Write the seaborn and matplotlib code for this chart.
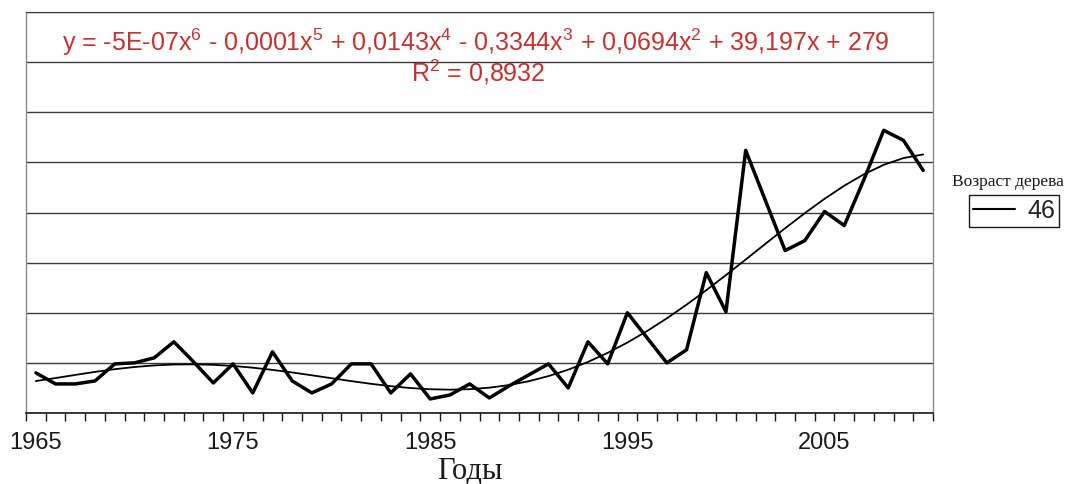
import numpy as np
import pandas as pd
import matplotlib
matplotlib.use("Agg")
import matplotlib.pyplot as plt
import seaborn as sns
from matplotlib.ticker import FixedLocator, NullFormatter

# Tree-ring series for a 46-year-old tree, 1965-2010
years = list(range(1965, 2011))
ring_values = [400, 290, 290, 320, 490, 500, 550, 710, 510, 300,
               490, 200, 610, 320, 200, 290, 490, 490, 200, 390,
               140, 180, 290, 150, 270, 380, 490, 250, 710, 490,
               1000, 750, 500, 630, 1400, 1010, 2620, 2120, 1620, 1720,
               2010, 1870, 2330, 2820, 2720, 2420]
label_years = [1965, 1975, 1985, 1995, 2005]
series_name = "46"
legend_title = "Возраст дерева"
x_title = "Годы"
equation_text = (r"y = -5E-07x$^{6}$ - 0,0001x$^{5}$ + 0,0143x$^{4}$ - 0,3344x$^{3}$"
                 r" + 0,0694x$^{2}$ + 39,197x + 279")
r2_text = r"R$^{2}$ = 0,8932"

df = pd.DataFrame({"year": years, "value": ring_values})

# Sixth-degree polynomial trend over the series index 1..n
idx = np.arange(1, len(years) + 1)
coef = np.polyfit(idx, df["value"].to_numpy(), 6)
df["trend"] = np.polyval(coef, idx)

sns.set_style("white")
plt.rcParams["font.family"] = ["Liberation Sans", "DejaVu Sans"]
plt.rcParams["mathtext.default"] = "regular"

W, H = 1068, 484
fig = plt.figure(figsize=(W / 100, H / 100), dpi=100)
left, right, top, bottom = 26, 933, 12, 413
ax = fig.add_axes([left / W, 1 - bottom / H, (right - left) / W, (bottom - top) / H])

sns.lineplot(data=df, x="year", y="value", ax=ax, color="black", linewidth=2.5,
             label=series_name, legend=False)
sns.lineplot(data=df, x="year", y="trend", ax=ax, color="black", linewidth=1.3,
             legend=False)

ax.set_xlim(years[0] - 0.5, years[-1] + 0.5)
ax.set_ylim(0, 4000)

# horizontal gridlines every 500 units, no value labels
ax.set_yticks(np.arange(0, 4001, 500))
ax.yaxis.grid(True, color="#3a3a3a", linewidth=1.0)
ax.tick_params(axis="y", left=False, labelleft=False)
ax.set_axisbelow(True)

# category-style x axis: tick marks between years, labels centred on years
ax.set_xticks(label_years)
ax.set_xticklabels([str(y) for y in label_years])
ax.xaxis.set_minor_locator(FixedLocator(np.arange(years[0] - 0.5, years[-1] + 1.0, 1.0)))
ax.xaxis.set_minor_formatter(NullFormatter())
ax.tick_params(axis="x", which="major", length=0, pad=14, labelsize=17, labelcolor="#1a1a1a")
ax.tick_params(axis="x", which="minor", length=6, width=1.0, color="#1a1a1a", direction="out",
               bottom=True)

for side in ["left", "right"]:
    ax.spines[side].set_color("#8a8a8a")
    ax.spines[side].set_linewidth(1.0)
ax.spines["top"].set_color("#3a3a3a")
ax.spines["bottom"].set_color("#1a1a1a")
ax.spines["bottom"].set_linewidth(1.2)

ax.set_xlabel(x_title, family=["Liberation Serif", "DejaVu Serif"], fontsize=22, color="#1a1a1a")
ax.xaxis.set_label_coords((470 - left) / (right - left), -0.11)
ax.set_ylabel("")

# trendline equation
red = "#c23431"
fig.text(476 / W, 1 - 42 / H, equation_text, ha="center", va="center", fontsize=18, color=red)
fig.text(478 / W, 1 - 72 / H, r2_text, ha="center", va="center", fontsize=18, color=red)

# legend with its title set above the frame
fig.text(1008 / W, 1 - 182 / H, legend_title, ha="center", va="center",
         family=["Liberation Serif", "DejaVu Serif"], fontsize=12.5, color="#1a1a1a")
handles = [ax.lines[0]]
leg = fig.legend(handles, [series_name], loc="center", bbox_to_anchor=(1014 / W, 1 - 211 / H),
                 frameon=True, fancybox=False, framealpha=1, edgecolor="#1a1a1a",
                 fontsize=18, handlelength=1.7, handletextpad=0.5, borderpad=0.15,
                 borderaxespad=0)
leg.get_frame().set_linewidth(1.0)
for l in leg.get_lines():
    l.set_linewidth(1.5)

fig.savefig("out.png", dpi=100, facecolor="white")
